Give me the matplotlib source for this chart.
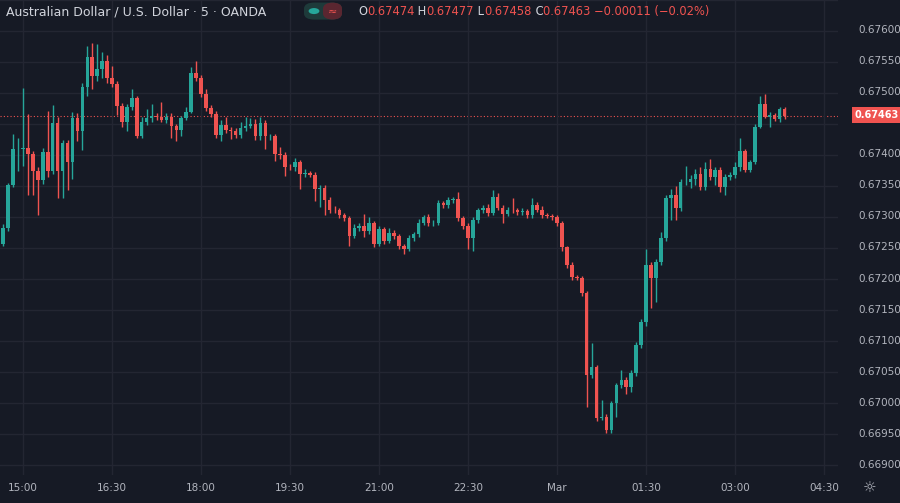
import numpy as np
import matplotlib
matplotlib.use("Agg")
import matplotlib.pyplot as plt
from matplotlib.patches import FancyBboxPatch, Circle

# 5-minute AUD/USD closes
close = [
    0.67257, 0.67283, 0.67352, 0.67409, 0.67410, 0.67412, 0.67401, 0.67375, 0.67359, 0.67405,
    0.67375, 0.67452, 0.67375, 0.67420, 0.67388, 0.67460, 0.67438, 0.67510, 0.67558, 0.67528,
    0.67539, 0.67552, 0.67524, 0.67514, 0.67479, 0.67454, 0.67477, 0.67492, 0.67430, 0.67454,
    0.67459, 0.67463, 0.67461, 0.67457, 0.67462, 0.67447, 0.67441, 0.67460, 0.67470, 0.67532,
    0.67524, 0.67499, 0.67476, 0.67466, 0.67433, 0.67449, 0.67441, 0.67438, 0.67433, 0.67444,
    0.67447, 0.67450, 0.67430, 0.67452, 0.67430, 0.67431, 0.67401,
    0.67400, 0.67381, 0.67380, 0.67388, 0.67370, 0.67371, 0.67368, 0.67346, 0.67347, 0.67328,
    0.67312, 0.67311, 0.67303, 0.67298, 0.67270, 0.67283, 0.67286, 0.67278, 0.67290, 0.67257,
    0.67280, 0.67262, 0.67275, 0.67269, 0.67253, 0.67249, 0.67266, 0.67272, 0.67291, 0.67300,
    0.67290, 0.67291, 0.67322, 0.67319, 0.67328, 0.67329, 0.67298, 0.67286, 0.67266, 0.67295,
    0.67311, 0.67315, 0.67307, 0.67333, 0.67315, 0.67305, 0.67312, 0.67311, 0.67308, 0.67309,
    0.67303, 0.67320, 0.67312,
    0.67303, 0.67302, 0.67300, 0.67290, 0.67251, 0.67222, 0.67203, 0.67202, 0.67177, 0.67045,
    0.67058, 0.66976, 0.66978, 0.66957, 0.67000, 0.67029, 0.67037, 0.67026, 0.67048, 0.67093,
    0.67130, 0.67222, 0.67201, 0.67227, 0.67266, 0.67331, 0.67335, 0.67315, 0.67356, 0.67357,
    0.67362, 0.67370, 0.67348, 0.67378, 0.67364, 0.67376, 0.67348, 0.67365, 0.67368, 0.67380,
    0.67407, 0.67376, 0.67388, 0.67446, 0.67483, 0.67462, 0.67465, 0.67458, 0.67474, 0.67463,
]
first_open = 0.67240
# wick lengths above / below the body, in 0.00001 units
upper_wick = [
    5, 5, 3, 25, 18, 96, 54, 5, 5, 7, 66, 29, 10, 5, 5, 10, 8, 6, 18, 23,
    40, 14, 10, 20, 5, 5, 5, 15, 3, 8, 15, 20, 5, 25, 5, 5, 3, 3, 8, 10,
    20, 5, 8, 5, 5, 8, 12, 5, 5, 10, 15, 10, 8, 10, 5, 3, 3,
    12, 5, 4, 8, 4, 6, 4, 4, 5, 4, 4, 6, 4, 4, 4, 6, 5, 19, 10, 4,
    6, 4, 8, 4, 4, 4, 5, 4, 6, 4, 5, 4, 5, 4, 4, 4, 12, 4, 4, 5,
    4, 4, 6, 10, 5, 4, 4, 18, 4, 6, 4, 10, 4,
    5, 4, 3, 4, 4, 3, 5, 4, 3, 3, 39, 3, 27, 5, 3, 3, 16, 5, 5, 5,
    5, 27, 5, 5, 10, 5, 11, 15, 5, 25, 5, 8, 10, 10, 15, 4, 4, 4, 5, 8,
    20, 3, 4, 4, 12, 15, 4, 3, 3, 3,
]
lower_wick = [
    8, 3, 5, 3, 34, 27, 66, 40, 56, 5, 11, 5, 44, 45, 44, 26, 15, 30, 15, 21,
    8, 15, 8, 5, 15, 8, 15, 5, 3, 3, 5, 5, 5, 3, 5, 20, 18, 10, 3, 3,
    5, 5, 5, 5, 5, 10, 5, 12, 5, 5, 5, 3, 5, 5, 20, 5, 10,
    6, 15, 4, 5, 25, 5, 4, 20, 30, 25, 5, 4, 5, 4, 16, 4, 5, 10, 5, 6,
    4, 5, 4, 5, 4, 8, 4, 4, 4, 4, 5, 4, 4, 5, 4, 5, 4, 5, 17, 20,
    4, 4, 5, 4, 4, 15, 4, 4, 4, 5, 4, 4, 4,
    4, 4, 5, 4, 5, 4, 5, 4, 5, 51, 5, 5, 3, 5, 5, 22, 5, 12, 8, 5,
    5, 5, 48, 38, 5, 5, 36, 20, 5, 4, 10, 10, 5, 5, 5, 12, 8, 12, 5, 5,
    5, 3, 3, 3, 3, 3, 17, 3, 5, 5,
]
tick_labels = ['15:00', '16:30', '18:00', '19:30', '21:00', '22:30', 'Mar', '01:30', '03:00', '04:30']

BG = '#161a25'
GRID = '#232632'
UP = '#26a69a'
DOWN = '#ef5350'
TXT = '#b2b5be'

close = np.array(close)
opens = np.concatenate([[first_open], close[:-1]])
highs = np.maximum(opens, close) + np.array(upper_wick) * 1e-5
lows = np.minimum(opens, close) - np.array(lower_wick) * 1e-5
n = len(close)
t = 770 - 5 * (n - 1 - np.arange(n))  # minutes after 15:00

fig = plt.figure(figsize=(9, 5.03), dpi=100, facecolor=BG)
ax = fig.add_axes([0, 28 / 503, 838 / 900, 475 / 503], facecolor=BG)

colors = [UP if c >= o else DOWN for o, c in zip(opens, close)]
ax.vlines(t, lows, highs, colors=colors, linewidth=1, zorder=2)
body_h = np.abs(close - opens)
body_h = np.where(body_h < 2e-6, 2e-6, body_h)
ax.bar(t, body_h, bottom=np.minimum(opens, close), width=3.6, color=colors, linewidth=0, zorder=3)

ymin, ymax = 0.66884, 0.67648
ax.set_xlim(-23.3, 824.1)
ax.set_ylim(ymin, ymax)
yt = np.arange(0.6690, 0.67651, 0.0005)
ax.set_yticks(yt)
ax.set_xticks(np.arange(0, 900, 90))
ax.grid(True, color=GRID, linewidth=1)
ax.tick_params(left=False, bottom=False, labelleft=False, labelbottom=False)
for s in ax.spines.values():
    s.set_visible(False)

def fig_y(v):
    return (28 + (v - ymin) / (ymax - ymin) * 475) / 503

last = close[-1]
# price scale on the right
for v in yt:
    yf = fig_y(v)
    if 0.01 < yf < 0.995 and abs(v - last) > 0.0002:
        fig.text(0.9775, yf, f'{v:.5f}', color=TXT, fontsize=7.5, ha='center', va='center')
for lab, m in zip(tick_labels, np.arange(0, 900, 90)):
    xf = (m + 23.3) / (824.1 + 23.3) * (838 / 900)
    fig.text(xf, 15 / 503, lab, color=TXT, fontsize=7.5, ha='center', va='center')
fig.text(0.966, 15 / 503, '☼', color=TXT, fontsize=11, ha='center', va='center')

ax.axhline(last, color=DOWN, linestyle=(0, (1, 2)), linewidth=0.8, zorder=1)
fig.text(0.9745, fig_y(last), f'{last:.5f}', color='white', fontsize=7, ha='center', va='center',
         fontweight='bold', bbox=dict(boxstyle='square,pad=0.3', fc=DOWN, ec='none'))

# header
fig.text(0.007, 0.977, 'Australian Dollar / U.S. Dollar · 5 · OANDA', color='#d1d4dc',
         fontsize=9, ha='left', va='center')
fig.patches.append(FancyBboxPatch((304 / 900, 0.961), 38 / 900, 0.034, boxstyle='round,pad=0,rounding_size=0.012',
                                  transform=fig.transFigure, fc='#1e3a3a', ec='none'))
fig.patches.append(FancyBboxPatch((323 / 900, 0.961), 19 / 900, 0.034, boxstyle='round,pad=0,rounding_size=0.012',
                                  transform=fig.transFigure, fc='#5a2630', ec='none'))
fig.patches.append(Circle((314 / 900, 0.978), 0.006, transform=fig.transFigure, fc=UP, ec='none'))
fig.text(332.5 / 900, 0.977, '≈', color=DOWN, fontsize=8, ha='center', va='center')
parts = [('O', '#d1d4dc'), ('0.67474', DOWN), (' H', '#d1d4dc'), ('0.67477', DOWN),
         (' L', '#d1d4dc'), ('0.67458', DOWN), (' C', '#d1d4dc'), ('0.67463 −0.00011 (−0.02%)', DOWN)]
x0 = 358
for s, c in parts:
    tx = fig.text(x0 / 900, 0.977, s, color=c, fontsize=8.3, ha='left', va='center')
    fig.canvas.draw()
    x0 += tx.get_window_extent().width

fig.savefig('out.png', dpi=100, facecolor=BG)
